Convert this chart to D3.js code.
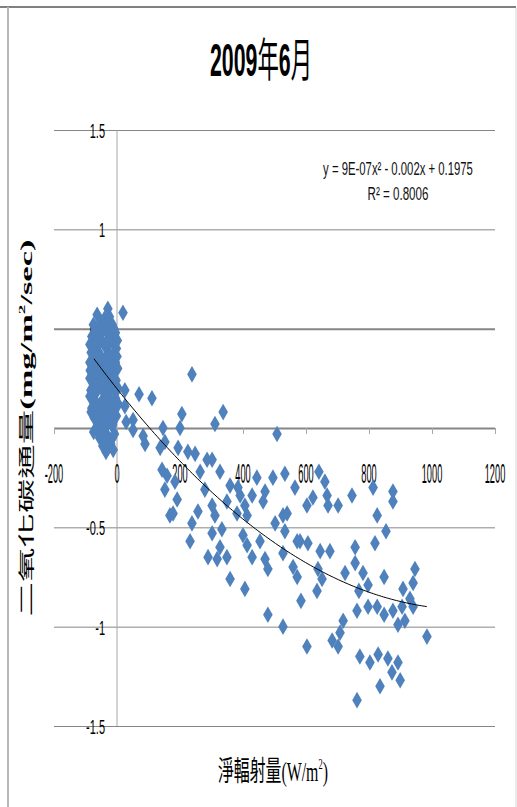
<!DOCTYPE html>
<html>
<head>
<meta charset="utf-8">
<script src="https://cdn.jsdelivr.net/npm/d3@7"></script>
<style>
  html, body { margin: 0; padding: 0; background: #fff; }
</style>
</head>
<body>
<div class="chart"></div>
<script>
// === Data ===
// net radiation (W/m2) and CO2 flux (mg/m2/sec)
const radiation = [
  // night-time cluster
  -63, -29, -75, -50, -40, -15, -5, -80, -60, -35, -20, -70, -45, -10, -2, -82, -58, -30, -15, -75,
  -48, -25, -5, -85, -65, -40, -12, -78, -55, -30, -3, -83, -62, -42, -20, -70, -50, -25, -5, -80,
  -58, -35, -12, -72, -45, -22, -2, -65, -40, -15, -55, -30, -8, -45, -20, -35, -12,
  -68, -52, -22, -8, -84, -38, -60, -28, -78, -48, -18, -66, -32, -4, -74, -44, -14, -57, -26,
  -86, -86, -86, -86, 2, 3, 4, 0, 1, -68, -52, -36, -20, -10, -60, -46, -16, -72, -32,
  -8, -64, -44, -18, -54, -30, -8, -60, -50, -25, -40, -15, -28, -42, -28,
  -55, -10, -24, -66, -38, -26, -78, -82,
  // low radiation
  19, 25, 70, 111, 25, 29, 51, 51, 83, 89,
  200, 206, 238, 337, 311, 508,
  146, 152, 137, 194, 225, 248, 302,
  143, 159, 184, 152, 191, 168, 178,
  264, 279, 286, 327, 359, 384, 349, 391, 406,
  444, 470, 495, 533, 565, 464, 429, 381, 413,
  257, 302, 311, 302, 238, 232, 333, 327, 349,
  289, 318, 400, 413, 454, 429, 359, 406, 470,
  479, 527, 533, 527, 502, 540, 572, 559, 572,
  // middle
  603, 622, 641, 660, 667, 670, 702, 746, 813, 826, 854, 819,
  581, 606, 645, 676, 638, 651, 635, 584,
  756, 756, 724, 781, 797, 768, 848, 908,
  797, 826, 762, 527, 718, 708, 683, 603,
  // high radiation
  762, 771, 803, 829, 835, 860, 873, 892, 899,
  702, 479, 984,
  876, 876, 946, 940, 930, 940, 848, 876, 905, 892, 914
];
const co2Flux = [
  0.57, 0.60, 0.52, 0.53, 0.55, 0.52, 0.48, 0.46, 0.47, 0.49, 0.45, 0.42, 0.43, 0.42, 0.40, 0.38, 0.38, 0.39, 0.36, 0.34,
  0.33, 0.32, 0.33, 0.29, 0.29, 0.28, 0.28, 0.24, 0.24, 0.23, 0.24, 0.19, 0.19, 0.18, 0.19, 0.14, 0.13, 0.14, 0.15, 0.10,
  0.09, 0.09, 0.10, 0.05, 0.04, 0.05, 0.06, 0.00, -0.01, 0.01, -0.05, -0.04, -0.03, -0.09, -0.08, -0.12, -0.11,
  0.50, 0.44, 0.48, 0.30, 0.33, 0.35, 0.31, 0.26, 0.16, 0.21, 0.21, 0.07, 0.12, 0.11, -0.02, -0.03, 0.02, 0.26, 0.44,
  0.42, 0.33, 0.25, 0.16, 0.30, 0.20, 0.12, 0.36, 0.44, 0.37, 0.36, 0.35, 0.31, 0.25, 0.22, 0.21, 0.23, 0.18, 0.16,
  0.19, 0.11, 0.12, 0.08, 0.06, 0.02, 0.07, 0.02, -0.02, -0.06, -0.07, -0.05, -0.10, 0.50, 0.52,
  0.50, 0.50, 0.56, 0.41, 0.42, 0.43, 0.28, 0.08,
  0.58, 0.19, 0.17, 0.15, 0.11, 0.03, 0.04, -0.01, -0.04, -0.08,
  0.00, 0.07, 0.27, 0.08, 0.02, -0.03,
  0.00, -0.07, -0.10, -0.10, -0.12, -0.13, -0.16,
  -0.21, -0.24, -0.27, -0.31, -0.36, -0.44, -0.43,
  -0.22, -0.31, -0.16, -0.22, -0.29, -0.30, -0.37, -0.34, -0.39,
  -0.25, -0.32, -0.25, -0.23, -0.30, -0.37, -0.34, -0.43, -0.44,
  -0.42, -0.39, -0.44, -0.53, -0.48, -0.57, -0.51, -0.60, -0.65,
  -0.65, -0.66, -0.54, -0.59, -0.57, -0.65, -0.76, -0.81, -0.66,
  -0.71, -0.63, -0.52, -0.44, -0.48, -0.43, -0.57, -0.70, -0.75,
  -0.39, -0.35, -0.22, -0.27, -0.34, -0.39, -0.39, -0.34, -0.30, -0.44, -0.52, -0.58,
  -0.57, -0.58, -0.62, -0.62, -0.71, -0.76, -0.82, -0.87,
  -0.60, -0.68, -0.73, -0.73, -0.79, -0.82, -0.75, -0.81,
  -0.90, -0.90, -0.92, -1.00, -0.97, -1.03, -1.07, -1.10,
  -1.37, -1.15, -1.18, -1.14, -1.30, -1.16, -1.23, -1.18, -1.27,
  -1.10, -0.94, -1.05,
  -0.32, -0.37, -0.71, -0.78, -0.86, -0.90, -0.94, -0.92, -0.90, -0.99, -0.97
];

const xTicks = [-200, 0, 200, 400, 600, 800, 1000, 1200];
const yTicks = [-1.5, -1, -0.5, 0, 0.5, 1, 1.5];
const yTickLabels = ["-1.5", "-1", "-0.5", "0", "0.5", "1", "1.5"];

// polynomial trendline printed on the chart: a*x^2 + b*x + c
const trendCoef = [9e-7, -0.002, 0.1975];
const trendRange = [-73, 984];

const titleText = ["2009", "年", "6", "月"];
const eqText = "y = 9E-07x² - 0.002x + 0.1975";
const r2Text = "R² = 0.8006";

// === Layout ===
const width = 517, height = 807;
const plot = {left: 54, right: 495, top: 130, bottom: 726};
const blue = "#4f81bd";
const sans = "'Liberation Sans Narrow', 'Liberation Sans', 'Noto Sans CJK TC', sans-serif";
const serif = "'Liberation Serif', 'Noto Sans CJK TC', serif";

const svg = d3.select(".chart").append("svg")
    .attr("width", width)
    .attr("height", height)
    .style("display", "block")
    .style("background", "#fff");

// squeeze a text element horizontally to a target width
function squeeze(text, x, y, targetWidth) {
    const w = text.node().getComputedTextLength();
    text.attr("transform", `translate(${x},${y}) scale(${targetWidth / w},1)`);
}

// === Frame ===
svg.append("line").attr("x1", 0).attr("x2", 516).attr("y1", 7).attr("y2", 7)
    .attr("stroke", "#808080").attr("stroke-width", 2);
svg.append("line").attr("x1", 8).attr("x2", 8).attr("y1", 7).attr("y2", height)
    .attr("stroke", "#b8b8b8").attr("stroke-width", 2);
svg.append("line").attr("x1", 516).attr("x2", 516).attr("y1", 8).attr("y2", height)
    .attr("stroke", "#d6d6d6").attr("stroke-width", 1);

// === Scales ===
const xScale = d3.scaleLinear().domain([-200, 1200]).range([plot.left, plot.right]);
const yScale = d3.scaleLinear().domain([-1.5, 1.5]).range([plot.bottom, plot.top]);

// === Gridlines ===
const grid = svg.append("g")
    .attr("class", "grid")
    .attr("transform", `translate(${plot.right},0)`)
    .call(d3.axisLeft(yScale).tickValues(yTicks).tickSize(plot.right - plot.left).tickFormat(""));
grid.select(".domain").remove();
grid.selectAll(".tick line")
    .attr("stroke", "#868686")
    .attr("stroke-width", d => (d === 0 || d === 0.5) ? 2 : 1);

// vertical axis line at x = 0
svg.append("line")
    .attr("x1", xScale(0)).attr("x2", xScale(0))
    .attr("y1", yScale(1.5)).attr("y2", yScale(-1.5))
    .attr("stroke", "#a6a6a6").attr("stroke-width", 1);

// x axis tick marks on the zero line
const xAxis = svg.append("g")
    .attr("transform", `translate(0,${yScale(0)})`)
    .call(d3.axisBottom(xScale).tickValues(xTicks).tickSize(6).tickFormat(""));
xAxis.select(".domain").remove();
xAxis.selectAll(".tick line").attr("stroke", "#a6a6a6");

// === Tick labels ===
yTicks.forEach((v, i) => {
    svg.append("text")
        .attr("text-anchor", "end")
        .attr("font-family", sans)
        .attr("font-size", 20)
        .attr("fill", "#000")
        .attr("transform", `translate(105,${yScale(v) + 8}) scale(0.55,1)`)
        .text(yTickLabels[i]);
});

xTicks.forEach(v => {
    svg.append("text")
        .attr("text-anchor", "middle")
        .attr("font-family", sans)
        .attr("font-size", 28)
        .attr("fill", "#000")
        .attr("transform", `translate(${xScale(v)},483) scale(0.33,1)`)
        .text(v);
});

// === Points ===
const points = radiation.map((r, i) => ({x: r, y: co2Flux[i]}));
const diamond = "M0,-8.3L4.8,0L0,8.3L-4.8,0Z";

svg.append("g").selectAll(".pt")
    .data(points)
    .enter()
    .append("path")
    .attr("class", "pt")
    .attr("d", diamond)
    .attr("transform", d => `translate(${xScale(d.x)},${yScale(d.y)})`)
    .attr("fill", blue);

// === Trendline ===
const trendX = d3.range(trendRange[0], trendRange[1], 8).concat([trendRange[1]]);
const trend = d3.line()
    .x(d => xScale(d))
    .y(d => yScale(trendCoef[0] * d * d + trendCoef[1] * d + trendCoef[2]));
svg.append("path")
    .datum(trendX)
    .attr("d", trend)
    .attr("fill", "none")
    .attr("stroke", "#000")
    .attr("stroke-width", 1);

// === Equation ===
const eq = svg.append("text")
    .attr("text-anchor", "middle")
    .attr("font-family", sans)
    .attr("font-size", 19)
    .attr("fill", "#111")
    .text(eqText);
squeeze(eq, 398, 175, 150);

const r2 = svg.append("text")
    .attr("text-anchor", "middle")
    .attr("font-family", sans)
    .attr("font-size", 19)
    .attr("fill", "#111")
    .text(r2Text);
squeeze(r2, 398, 200, 61);

// === Title ===
const title = svg.append("text")
    .attr("text-anchor", "middle")
    .attr("font-family", sans)
    .attr("font-size", 46)
    .attr("fill", "#000");
title.selectAll("tspan")
    .data(titleText)
    .enter()
    .append("tspan")
    .attr("font-weight", (d, i) => i % 2 === 0 ? "bold" : "normal")
    .text(d => d);
squeeze(title, 261, 76, 102);

// === Axis titles ===
const xTitle = svg.append("text")
    .attr("text-anchor", "middle")
    .attr("font-family", serif)
    .attr("font-size", 28)
    .attr("fill", "#000");
xTitle.append("tspan").text("淨輻射量(W/m");
xTitle.append("tspan").attr("font-size", 15).attr("dy", -12).text("2");
xTitle.append("tspan").attr("dy", 12).text(")");
squeeze(xTitle, 273, 781, 110);

const yTitle = svg.append("text")
    .attr("text-anchor", "middle")
    .attr("font-family", serif)
    .attr("font-size", 27)
    .attr("fill", "#000");
yTitle.append("tspan").text("二氧化碳通量");
yTitle.append("tspan").attr("font-weight", "bold").text("(mg/m");
yTitle.append("tspan").attr("font-weight", "bold").attr("font-size", 15).attr("dy", -11).text("2");
yTitle.append("tspan").attr("font-weight", "bold").attr("dy", 11).text("/sec)");
const yLen = yTitle.node().getComputedTextLength();
yTitle.attr("transform", `translate(32,428) rotate(-90) scale(${377 / yLen},0.6)`);
</script>
</body>
</html>
